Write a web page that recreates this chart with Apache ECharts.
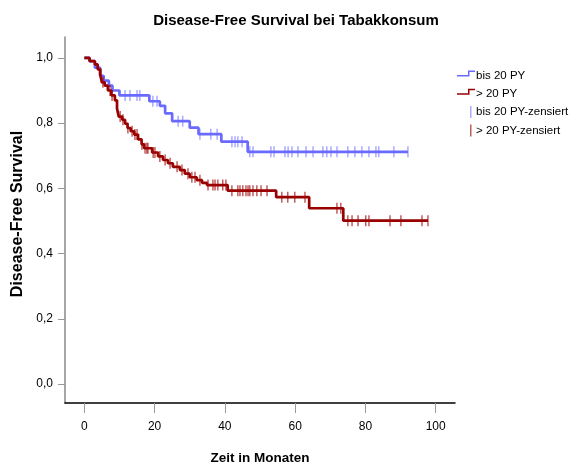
<!DOCTYPE html>
<html>
<head>
<meta charset="utf-8">
<script src="https://cdn.jsdelivr.net/npm/echarts@6/dist/echarts.min.js"></script>
<style>
  html, body { margin: 0; padding: 0; background: #fff; }
  #main { width: 577px; height: 465px; }
</style>
</head>
<body>
<div id="main"></div>
<script>
const FONT = "'Liberation Sans', Arial, sans-serif";

const xTicks = [0, 20, 40, 60, 80, 100];
const yTicks = [0, 0.2, 0.4, 0.6, 0.8, 1.0];

// bis 20 PY: step times and survival after each step
const blueTimes = [0, 1.5, 3, 4.5, 5.5, 7, 8, 10, 18.5, 21.5, 23, 25, 30, 32.5, 39, 46.5];
const blueSurv = [1.0, 0.99, 0.97, 0.945, 0.93, 0.915, 0.9, 0.885, 0.867, 0.853, 0.83, 0.806, 0.786, 0.766, 0.743, 0.712];
const blueEnd = 92.1;
const blueCensored = [11.6, 13, 15, 15.8, 19.5, 20.7, 26.7, 28, 32.9, 36, 37.8, 42, 42.9, 43.7, 44.9,
  47.1, 48, 53.1, 54, 57.1, 58, 59.1, 60.8, 63.1, 65.1, 67.9, 69, 70.2, 71.9, 75, 77, 79, 81, 83, 83.8, 88.1, 92.1];

// > 20 PY
const redTimes = [0, 1.5, 3, 3.8, 4.5, 5, 5.8, 6.7, 7.7, 8.7, 9.3, 9.8, 10.8, 11.6, 12.3, 13.2, 14.2, 15.3,
  16.3, 17, 19.3, 21, 22.4, 23.8, 25.2, 27.2, 28.6, 30, 32, 33.5, 34.9, 40.8, 54.6, 64, 73.7];
const redSurv = [1.0, 0.99, 0.98, 0.965, 0.95, 0.925, 0.915, 0.9, 0.885, 0.87, 0.845, 0.82, 0.81, 0.798, 0.785,
  0.775, 0.765, 0.75, 0.735, 0.723, 0.71, 0.698, 0.687, 0.677, 0.666, 0.656, 0.645, 0.634, 0.625, 0.617, 0.61,
  0.593, 0.573, 0.539, 0.501];
const redEnd = 97.8;
const redCensored = [4.7, 5.3, 7.3, 7.9, 10.2, 11, 12.4, 13.6, 14.4, 15, 16.4, 17.3, 17.8, 18.1, 19.6, 20.1,
  21.5, 23, 24.4, 26.4, 27.8, 29.5, 30.6, 31.5, 32.9, 35.2, 36.6, 37.2, 38, 39.4, 40.3, 42, 43.7, 44.3, 45.1,
  46, 46.6, 47.1, 48, 49.1, 50.3, 52, 56.2, 57.9, 59.9, 62.8, 71.9, 73, 75, 76.2, 77.9, 80.1, 81, 87, 90.1,
  96.1, 97.8];

const BLUE = '#6a6aff';
const RED = '#990000';

function curve(times, surv, end) {
  const pts = times.map((t, i) => [t, surv[i]]);
  pts.push([end, surv[surv.length - 1]]);
  return pts;
}
function censorPoints(times, surv, cens) {
  return cens.map(c => {
    let s = surv[0];
    for (let i = 0; i < times.length; i++) if (times[i] <= c) s = surv[i];
    return [c, s];
  });
}

const stepIcon = 'path://M0,0 L0.01,0.01 M18,12 L17.99,11.99 M0,5.5 L11,5.5 L11,1 L18,1 L18,2.5 L12.5,2.5 L12.5,7 L0,7 Z';
const barIcon = 'path://M0,0 L0.01,0.01 M18,12 L17.99,11.99 M13,0 L14.5,0 L14.5,12 L13,12 Z';

const chart = echarts.init(document.getElementById('main'));
chart.setOption({
  animation: false,
  title: {
    text: 'Disease-Free Survival bei Tabakkonsum',
    left: 296, top: 13, padding: 0, textAlign: 'center',
    textStyle: { fontFamily: FONT, fontSize: 15, fontWeight: 'bold', color: '#000' }
  },
  legend: {
    orient: 'vertical', left: 457, top: 69.5, padding: 0,
    itemWidth: 18, itemHeight: 12, itemGap: 6.3,
    symbolKeepAspect: false,
    itemStyle: { borderWidth: 0 },
    textStyle: { fontFamily: FONT, fontSize: 11.5, color: '#000', padding: [0, 0, 0, -4] },
    data: [
      { name: 'bis 20 PY', icon: stepIcon },
      { name: '> 20 PY', icon: stepIcon },
      { name: 'bis 20 PY-zensiert', icon: barIcon },
      { name: '> 20 PY-zensiert', icon: barIcon }
    ]
  },
  grid: { left: 65, right: 122, top: 37, bottom: 62, containLabel: false, outerBoundsMode: 'none' },
  xAxis: {
    type: 'value', min: -5.5, max: 105.5,
    name: 'Zeit in Monaten', nameLocation: 'middle', nameGap: 48,
    nameTextStyle: { fontFamily: FONT, fontSize: 13.5, fontWeight: 'bold', color: '#000' },
    axisLine: { onZero: false, lineStyle: { color: '#000', width: 1.5 } },
    axisTick: { customValues: xTicks, length: 10, lineStyle: { color: '#999' } },
    axisLabel: { customValues: xTicks, margin: 18, fontFamily: FONT, fontSize: 12, color: '#000' },
    splitLine: { show: false }
  },
  yAxis: {
    type: 'value', min: -0.058, max: 1.064,
    name: 'Disease-Free Survival', nameLocation: 'middle', nameGap: 26,
    nameTextStyle: { fontFamily: FONT, fontSize: 16, fontWeight: 'bold', color: '#000', padding: [0, 0, 0, 12] },
    axisLine: { show: true, onZero: false, lineStyle: { color: '#888', width: 1.5 } },
    axisTick: { show: true, customValues: yTicks, length: 7, lineStyle: { color: '#999' } },
    axisLabel: {
      customValues: yTicks, margin: 12, fontFamily: FONT, fontSize: 12, color: '#000',
      formatter: v => v.toFixed(1).replace('.', ',')
    },
    splitLine: { show: false }
  },
  series: [
    {
      name: 'bis 20 PY', type: 'line', step: 'end', showSymbol: false,
      data: curve(blueTimes, blueSurv, blueEnd),
      itemStyle: { color: BLUE }, lineStyle: { color: BLUE, width: 2.7 }, z: 2
    },
    {
      name: '> 20 PY', type: 'line', step: 'end', showSymbol: false,
      data: curve(redTimes, redSurv, redEnd),
      itemStyle: { color: RED }, lineStyle: { color: RED, width: 2.7 }, z: 3
    },
    {
      name: 'bis 20 PY-zensiert', type: 'scatter', symbol: 'rect', symbolSize: [1.5, 11],
      data: censorPoints(blueTimes, blueSurv, blueCensored),
      itemStyle: { color: 'rgba(106,106,255,0.7)' }, z: 4
    },
    {
      name: '> 20 PY-zensiert', type: 'scatter', symbol: 'rect', symbolSize: [1.5, 11],
      data: censorPoints(redTimes, redSurv, redCensored),
      itemStyle: { color: 'rgba(160,0,0,0.8)' }, z: 5
    }
  ]
});
</script>
</body>
</html>
